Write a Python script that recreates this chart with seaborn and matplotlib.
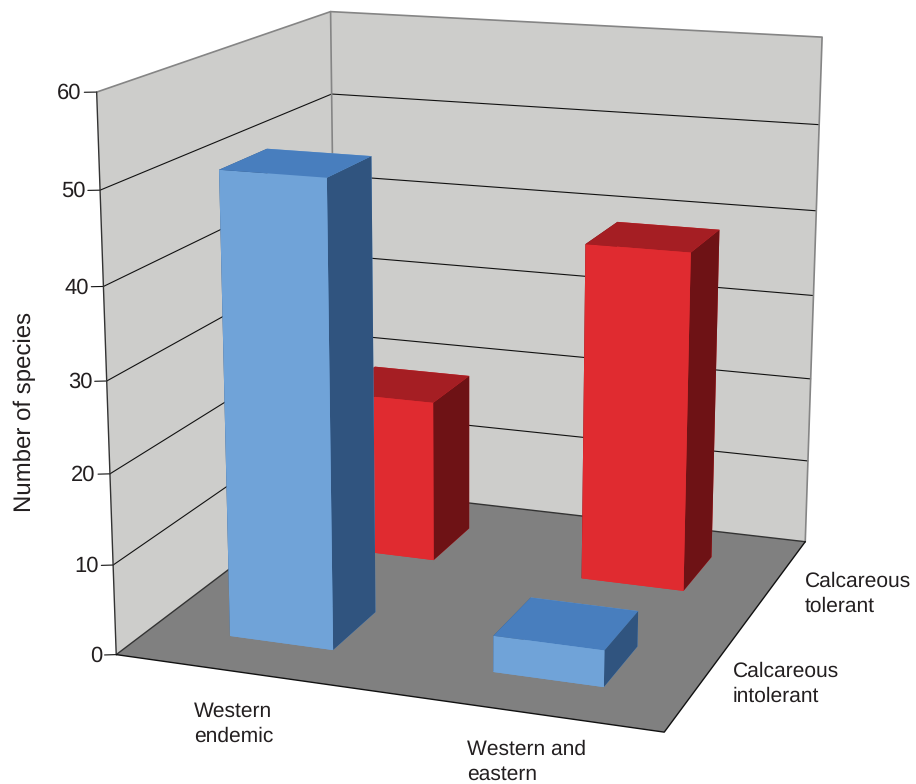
import numpy as np
import pandas as pd
import matplotlib
matplotlib.use("Agg")
import matplotlib.pyplot as plt
from mpl_toolkits.mplot3d.art3d import Poly3DCollection
import seaborn as sns

# Species counts per distribution group and calcareous tolerance class
distribution = ["Western\nendemic", "Western and\neastern"]
tolerance = ["Calcareous\nintolerant", "Calcareous\ntolerant"]
intolerant_counts = [51, 4]
tolerant_counts = [19, 39]
y_ticks = [0, 10, 20, 30, 40, 50, 60]
y_title = "Number of species"

# Front, top and side shades for each tolerance class
blue_faces = sns.color_palette(["#70A3D8", "#487EBE", "#30547F"])
red_faces = sns.color_palette(["#E02B30", "#A51E23", "#6E1215"])

table = pd.DataFrame(
    {"intolerant": intolerant_counts, "tolerant": tolerant_counts},
    index=distribution,
)

sns.set_theme(style="white", font="Liberation Sans")
plt.rcParams["text.color"] = "#231F20"
plt.rcParams["text.hinting"] = "no_hinting"
plt.rcParams["text.hinting_factor"] = 1

WIDTH, HEIGHT = 916, 784
fig = plt.figure(figsize=(WIDTH / 100, HEIGHT / 100), dpi=100)
ax = fig.add_axes([0, 0, 1, 1], projection="3d")
ax.set_axis_off()
ax.patch.set_visible(False)
ax.computed_zorder = False

# Pinhole camera for the scene, from data units to image pixels (y pointing down)
CAMERA = np.array([
    [321.8497, 182.5197, -15.8458 / 30, 149.1276],
    [16.9467, -47.4689, -364.0373 / 30, 839.9666],
    [-0.044790, 0.122164, -0.034016 / 30, 1.283154],
])


def scene_projection():
    to_axes = ax.transData.inverted().get_matrix()
    flip = np.array([[1, 0, 0], [0, -1, HEIGHT], [0, 0, 1]], float)
    xyw = to_axes @ flip @ CAMERA
    depth = np.array([0, 0, 0, -1.0])
    return np.vstack([xyw[0], xyw[1], depth, xyw[2]])


def to_image(x, y, z):
    u, v, w = CAMERA @ np.array([x, y, z, 1.0])
    return u / w, v / w


def image_text(u, v, text, **kw):
    fig.text(u / WIDTH, 1 - v / HEIGHT, text, **kw)


ax.get_proj = scene_projection

xmax, ymax = len(distribution), len(tolerance)
zmax = y_ticks[-1]

# Back walls and floor
left_wall = [(0, 0, 0), (0, ymax, 0), (0, ymax, zmax), (0, 0, zmax)]
back_wall = [(0, ymax, 0), (xmax, ymax, 0), (xmax, ymax, zmax), (0, ymax, zmax)]
floor = [(0, 0, 0), (xmax, 0, 0), (xmax, ymax, 0), (0, ymax, 0)]
ax.add_collection3d(Poly3DCollection([left_wall, back_wall], facecolors="#CDCDCB",
                                     edgecolors="none", zorder=1))
ax.add_collection3d(Poly3DCollection([floor], facecolors="#808080",
                                     edgecolors="none", zorder=1))

# Gridlines across both walls, with an outward tick on the front edge
tick_dx, tick_dy = -0.037, -0.017
for z in y_ticks[1:-1]:
    ax.plot([0, 0, xmax], [0, ymax, ymax], [z, z, z], color="#111111", lw=0.8, zorder=2)
for z in y_ticks:
    ax.plot([tick_dx, 0], [tick_dy, 0], [z, z], color="#111111", lw=0.8, zorder=2)
    u, v = to_image(tick_dx, tick_dy, z)
    image_text(u - 2.5, v + 1.2, str(z), ha="right", va="center", fontsize=15.8)

# Wall outlines
edge = "#858585"
ax.plot([0, 0, xmax, xmax], [0, ymax, ymax, ymax], [zmax, zmax, zmax, 0],
        color=edge, lw=1.2, zorder=2)
ax.plot([0, 0], [ymax, ymax], [0, zmax], color=edge, lw=1.2, zorder=2)
ax.plot([0, 0], [0, 0], [0, zmax], color="#333333", lw=1.0, zorder=2)
ax.plot([0, 0, xmax], [0, ymax, ymax], [0, 0, 0], color="#333333", lw=1.0, zorder=2)
ax.plot([0, xmax, xmax], [0, 0, ymax], [0, 0, 0], color="#111111", lw=1.0, zorder=2)

# Bars, back row first so the front row covers it
bar_width = 0.4
rows = [("tolerant", red_faces, 1, 3), ("intolerant", blue_faces, 0, 4)]
for column, (front, top, side), row, order in rows:
    for i, count in enumerate(table[column]):
        # bar3d face order: bottom, top, front, back, left, right
        ax.bar3d(i + 0.5 - bar_width / 2, row + 0.5 - bar_width / 2, 0,
                 bar_width, bar_width, count,
                 color=[front, top, front, front, side, side],
                 shade=False, linewidth=0, zorder=order + i * 0.1)

# Category and series labels
for label, u, v in zip(distribution, [194, 467], [742, 780]):
    image_text(u, v, label, ha="left", va="baseline", fontsize=15.4, linespacing=1.37)
for label, u, v in zip(tolerance, [732.7, 805], [701.7, 611.7]):
    image_text(u, v, label, ha="left", va="baseline", fontsize=15.4, linespacing=1.37)
image_text(36, 412, y_title, rotation=90, ha="right", va="center", fontsize=17)

fig.savefig("out.png", dpi=100)
